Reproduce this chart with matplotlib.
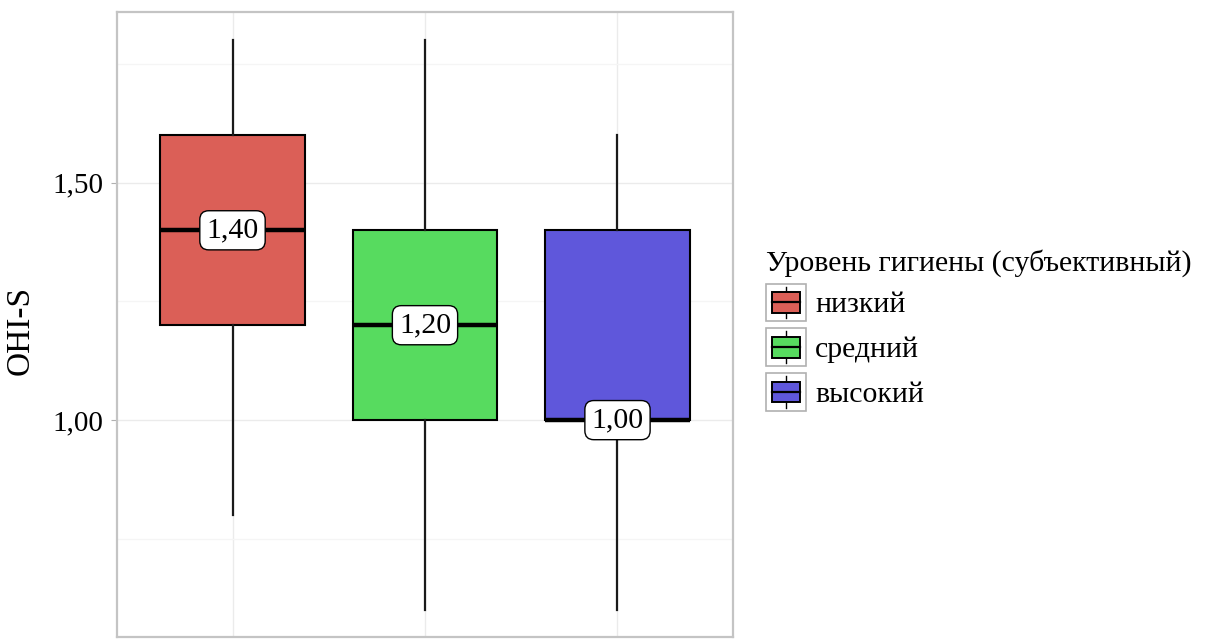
import numpy as np
import matplotlib
matplotlib.use('Agg')
import matplotlib.pyplot as plt
from matplotlib.patches import Patch, Rectangle
from matplotlib.lines import Line2D
from matplotlib.legend_handler import HandlerBase

plt.rcParams['font.family'] = ['Liberation Serif', 'DejaVu Serif']

groups = ['низкий', 'средний', 'высокий']
legend_title = 'Уровень гигиены (субъективный)'
whis_lo = [0.8, 0.6, 0.6]
q1 = [1.2, 1.0, 1.0]
medians = [1.4, 1.2, 1.0]
q3 = [1.6, 1.4, 1.4]
whis_hi = [1.8, 1.8, 1.6]
colors = ['#db5f57', '#57db5f', '#5f57db']
y_ticks = [1.0, 1.5]
y_minor = [0.75, 1.25, 1.75]

FS = 21.5


class BoxHandler(HandlerBase):
    # small boxplot glyph inside a grey square for the legend keys
    def create_artists(self, legend, orig_handle, xdescent, ydescent,
                       width, height, fontsize, trans):
        x0, y0 = -xdescent, -ydescent
        cx, cy = x0 + width / 2, y0 + height / 2
        frame = Rectangle((x0, y0), width, height, facecolor='white',
                          edgecolor='#b0b0b0', lw=1.2, transform=trans)
        whisk = Line2D([cx, cx], [y0 + 0.08 * height, y0 + 0.92 * height],
                       color='black', lw=1.0, transform=trans)
        bx0, bw = x0 + 0.15 * width, 0.7 * width
        box = Rectangle((bx0, y0 + 0.23 * height), bw, 0.54 * height,
                        facecolor=orig_handle.get_facecolor(),
                        edgecolor='black', lw=1.4, transform=trans)
        med = Line2D([bx0, bx0 + bw], [cy, cy], color='black', lw=1.6,
                     transform=trans)
        return [frame, whisk, box, med]


fig = plt.figure(figsize=(12.11, 6.39), dpi=100)
ax = fig.add_axes([117 / 1211, 1 - 637 / 639, 616 / 1211, 625 / 639])

stats = []
for i in range(len(groups)):
    stats.append({'med': medians[i], 'q1': q1[i], 'q3': q3[i],
                  'whislo': whis_lo[i], 'whishi': whis_hi[i], 'label': groups[i]})

pos = np.arange(1, len(groups) + 1)
bp = ax.bxp(stats, positions=pos, widths=0.75, patch_artist=True,
            showcaps=False, showfliers=False,
            boxprops=dict(edgecolor='black', linewidth=1.5),
            whiskerprops=dict(color='#1a1a1a', linewidth=1.6),
            medianprops=dict(color='black', linewidth=3.2))
for patch, c in zip(bp['boxes'], colors):
    patch.set_facecolor(c)
    patch.set_zorder(2)
for w in bp['whiskers']:
    w.set_zorder(2)
for m in bp['medians']:
    m.set_zorder(3)

# median value labels
for x, m in zip(pos, medians):
    ax.text(x, m, '{:.2f}'.format(m).replace('.', ','), ha='center', va='center',
            fontsize=FS, zorder=4,
            bbox=dict(boxstyle='round,pad=0.22,rounding_size=0.3', fc='white',
                      ec='black', lw=1.0))

ax.set_xlim(0.4, 3.6)
ax.set_ylim(0.543, 1.86)
ax.set_xticks(pos)
ax.set_xticklabels([])
ax.set_yticks(y_ticks)
ax.set_yticklabels(['{:.2f}'.format(t).replace('.', ',') for t in y_ticks], fontsize=FS - 0.5)
ax.set_yticks(y_minor, minor=True)
ax.tick_params(axis='x', length=0)
ax.tick_params(axis='y', which='major', length=4, color='#b0b0b0', pad=6)
ax.tick_params(axis='y', which='minor', length=0)
ax.grid(True, which='major', color='#ebebeb', lw=1.0, zorder=0)
ax.grid(True, which='minor', axis='y', color='#f5f5f5', lw=1.0, zorder=0)
ax.set_axisbelow(True)
for s in ax.spines.values():
    s.set_color('#c4c4c4')
    s.set_linewidth(1.6)
ax.set_ylabel('OHI-S', fontsize=24)
ax.yaxis.set_label_coords(-0.132, 0.49)

handles = [Patch(facecolor=c, edgecolor='black') for c in colors]
leg = fig.legend(handles, groups, title=legend_title, loc='center left',
                 bbox_to_anchor=(766 / 1211, 1 - 330 / 639), frameon=False,
                 fontsize=FS, title_fontsize=FS, alignment='left',
                 handler_map={Patch: BoxHandler()},
                 handlelength=1.34, handleheight=1.58, labelspacing=0.23,
                 handletextpad=0.3, borderpad=0, borderaxespad=0)

fig.savefig('out.png', dpi=100)
